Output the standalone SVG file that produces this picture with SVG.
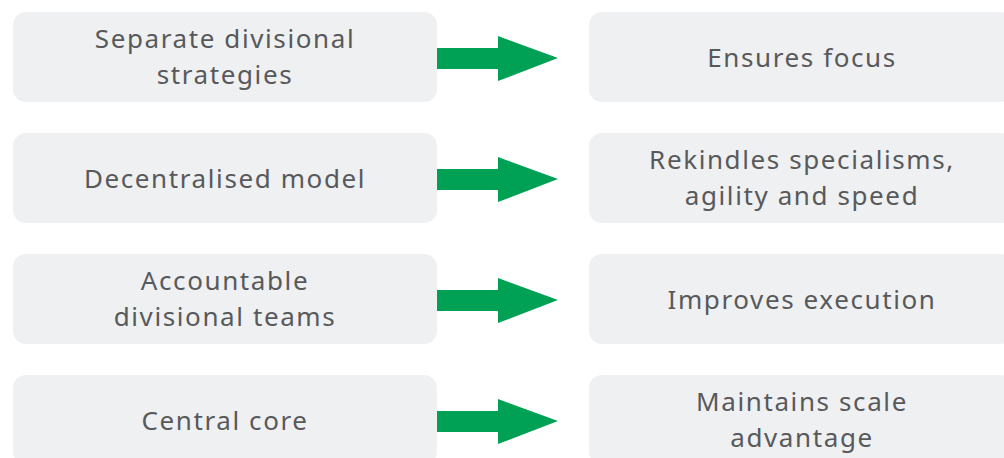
<svg xmlns="http://www.w3.org/2000/svg" width="1004" height="458" viewBox="0 0 1004 458">
<defs>
<style>
.box{fill:#eff0f2}
.t{font-family:"Noto Sans","Open Sans",sans-serif;font-size:26px;font-weight:400;fill:#58595b;text-anchor:middle;letter-spacing:1.6px}
.arr{fill:#00a055}
</style>
<path id="arrow" d="M437,48 L498,48 L498,36 L558,58 L498,81 L498,69 L437,69 Z"/>
</defs>
<rect width="1004" height="458" fill="#ffffff"/>
<g id="left1"><rect class="box" x="13" y="12" width="424" height="90" rx="13"/><text class="t" x="225" y="48">Separate divisional</text><text class="t" x="225" y="84">strategies</text></g>
<g id="right1"><rect class="box" x="589" y="12" width="424" height="90" rx="13"/><text class="t" x="802" y="67">Ensures focus</text></g>
<g id="left2"><rect class="box" x="13" y="133" width="424" height="90" rx="13"/><text class="t" x="225" y="188">Decentralised model</text></g>
<g id="right2"><rect class="box" x="589" y="133" width="424" height="90" rx="13"/><text class="t" x="802" y="169">Rekindles specialisms,</text><text class="t" x="802" y="205">agility and speed</text></g>
<g id="left3"><rect class="box" x="13" y="254" width="424" height="90" rx="13"/><text class="t" x="225" y="290">Accountable</text><text class="t" x="225" y="326">divisional teams</text></g>
<g id="right3"><rect class="box" x="589" y="254" width="424" height="90" rx="13"/><text class="t" x="802" y="309">Improves execution</text></g>
<g id="left4"><rect class="box" x="13" y="375" width="424" height="90" rx="13"/><text class="t" x="225" y="430">Central core</text></g>
<g id="right4"><rect class="box" x="589" y="375" width="424" height="90" rx="13"/><text class="t" x="802" y="411">Maintains scale</text><text class="t" x="802" y="447">advantage</text></g>
<g id="connectors">
<use href="#arrow" class="arr"/>
<use href="#arrow" class="arr" y="121"/>
<use href="#arrow" class="arr" y="242"/>
<use href="#arrow" class="arr" y="363"/>
</g>
</svg>
